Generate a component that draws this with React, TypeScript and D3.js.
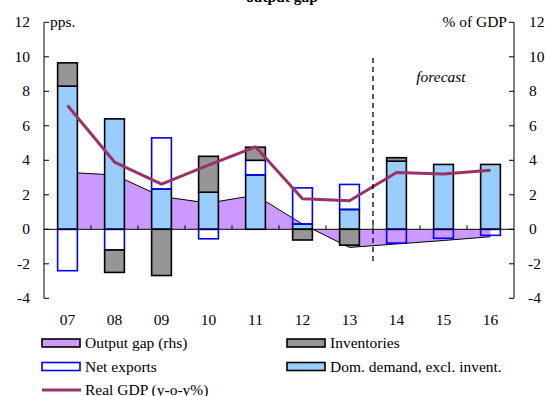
import React from "react";
import * as d3 from "d3";

const years = ["07", "08", "09", "10", "11", "12", "13", "14", "15", "16"];
const domDemand = [8.3, 6.4, 2.33, 2.15, 3.15, 0.3, 1.15, 3.95, 3.76, 3.76];
const netExports = [-2.4, -1.2, 2.97, -0.55, 0.85, 2.1, 1.45, -0.8, -0.52, -0.35];
const inventories = [1.35, -1.3, -2.68, 2.08, 0.76, -0.62, -0.92, 0.2, 0, 0];
const realGDP = [7.18, 3.9, 2.62, 3.72, 4.78, 1.77, 1.65, 3.29, 3.2, 3.43];
const outputGap = [3.3, 3.15, 1.9, 1.52, 1.98, 0.3, -1.05, -0.85, -0.65, -0.43];
const yTicks = [-4, -2, 0, 2, 4, 6, 8, 10, 12];

const W = 545;
const H = 396;
const FONT = '"Liberation Serif", "Times New Roman", Times, serif';
const FS = 15.5;

export default function App() {
  const left = 44;
  const right = 514;
  const x = d3.scaleBand<string>().domain(years).range([left, right]).paddingInner(0).paddingOuter(0);
  const y = d3.scaleLinear().domain([-4, 12]).range([298.3, 22.3]);
  const yR = d3.scaleLinear().domain([-4, 12]).range([298.3, 22.3]);
  const bw = x.bandwidth() * 0.42;
  const cx = (d: string) => (x(d) as number) + x.bandwidth() / 2;

  const rows = years.map((yr, i) => ({
    year: yr,
    dom: domDemand[i],
    net: netExports[i],
    inv: inventories[i],
  }));
  const keys = ["dom", "net", "inv"];
  const stacked = d3
    .stack<any>()
    .keys(keys)
    .offset(d3.stackOffsetDiverging)(rows);

  const styles: Record<string, { fill: string; stroke: string }> = {
    dom: { fill: "#99ccff", stroke: "#000" },
    net: { fill: "none", stroke: "#0000ff" },
    inv: { fill: "#969696", stroke: "#000" },
  };

  const gapData = years.map((yr, i) => ({ yr, v: outputGap[i] }));
  const area = d3
    .area<{ yr: string; v: number }>()
    .x((d) => cx(d.yr))
    .y0(yR(0))
    .y1((d) => yR(d.v));
  const gapLine = d3
    .line<{ yr: string; v: number }>()
    .x((d) => cx(d.yr))
    .y((d) => yR(d.v));
  const gdpLine = d3
    .line<number>()
    .x((_, i) => cx(years[i]))
    .y((d) => y(d));

  const y0 = y(0);
  const forecastX = x("14") as number;

  const legend = [
    { label: "Output gap (rhs)", kind: "rect", fill: "#cc99ff", stroke: "#000", col: 0, row: 0 },
    { label: "Inventories", kind: "rect", fill: "#969696", stroke: "#000", col: 1, row: 0 },
    { label: "Net exports", kind: "rect", fill: "#fff", stroke: "#0000ff", col: 0, row: 1 },
    { label: "Dom. demand, excl. invent.", kind: "rect", fill: "#99ccff", stroke: "#000", col: 1, row: 1 },
    { label: "Real GDP (y-o-y%)", kind: "line", fill: "#993366", stroke: "#993366", col: 0, row: 2 },
  ];
  const legX = [42, 287];
  const legY = [343, 366.5, 390];

  return (
    <svg
      width={W}
      height={H}
      style={{ position: "absolute", left: 0, top: 0, background: "#fff", fontFamily: FONT }}
    >
      <rect x={0} y={0} width={W} height={H} fill="#fff" />
      <text x={282} y={1.5} textAnchor="middle" fontSize={FS} fontWeight="bold">
        output gap
      </text>

      {/* output gap area */}
      <path d={area(gapData) || ""} fill="#cc99ff" stroke="none" />
      <path d={gapLine(gapData) || ""} fill="none" stroke="#000" strokeWidth={1} />

      {/* bars */}
      {stacked.map((layer) =>
        layer.map((seg, i) => {
          const top = Math.min(y(seg[0]), y(seg[1]));
          const h = Math.abs(y(seg[0]) - y(seg[1]));
          if (h < 0.01) return null;
          const st = styles[layer.key];
          return (
            <rect
              key={layer.key + i}
              x={cx(years[i]) - bw / 2}
              y={top}
              width={bw}
              height={h}
              fill={st.fill}
              stroke={st.stroke}
              strokeWidth={1.6}
            />
          );
        })
      )}

      {/* zero line */}
      <line x1={left} x2={right} y1={y0} y2={y0} stroke="#000" strokeWidth={1} />
      {years.slice(1).map((yr) => (
        <line key={"xt" + yr} x1={x(yr) as number} x2={x(yr) as number} y1={y0} y2={y0 - 4} stroke="#000" strokeWidth={1} />
      ))}

      {/* real GDP */}
      <path d={gdpLine(realGDP) || ""} fill="none" stroke="#993366" strokeWidth={3} strokeLinejoin="round" />

      {/* forecast */}
      <line x1={forecastX} x2={forecastX} y1={58} y2={261} stroke="#000" strokeWidth={1.3} strokeDasharray="5,4" />
      <text x={441} y={82} textAnchor="middle" fontSize={FS} fontStyle="italic">
        forecast
      </text>

      {/* left axis */}
      <line x1={left} x2={left} y1={y(12)} y2={y(-4)} stroke="#000" strokeWidth={1} />
      {yTicks.map((t) => (
        <g key={"l" + t}>
          <line x1={left} x2={left + 5} y1={y(t)} y2={y(t)} stroke="#000" strokeWidth={1} />
          <text x={30} y={y(t) + 5} textAnchor="end" fontSize={FS}>
            {t}
          </text>
        </g>
      ))}
      <text x={50} y={27} fontSize={FS}>
        pps.
      </text>

      {/* right axis */}
      <line x1={right} x2={right} y1={yR(12)} y2={yR(-4)} stroke="#000" strokeWidth={1} />
      {yTicks.map((t) => (
        <g key={"r" + t}>
          <line x1={right - 5} x2={right} y1={yR(t)} y2={yR(t)} stroke="#000" strokeWidth={1} />
          <text x={t < 0 ? 528 : 529} y={yR(t) + 5} textAnchor="start" fontSize={FS}>
            {t}
          </text>
        </g>
      ))}
      <text x={507} y={27} textAnchor="end" fontSize={FS}>
        % of GDP
      </text>

      {/* x labels */}
      {years.map((yr) => (
        <text key={"xl" + yr} x={cx(yr)} y={325} textAnchor="middle" fontSize={FS}>
          {yr}
        </text>
      ))}

      {/* legend */}
      {legend.map((l) => {
        const lx = legX[l.col];
        const ly = legY[l.row];
        return (
          <g key={l.label}>
            {l.kind === "rect" ? (
              <rect x={lx} y={ly - 4} width={38} height={8} fill={l.fill} stroke={l.stroke} strokeWidth={1.6} />
            ) : (
              <line x1={lx} x2={lx + 39} y1={ly} y2={ly} stroke={l.stroke} strokeWidth={3} />
            )}
            <text x={lx + 43} y={ly + 5} fontSize={FS}>
              {l.label}
            </text>
          </g>
        );
      })}
    </svg>
  );
}
